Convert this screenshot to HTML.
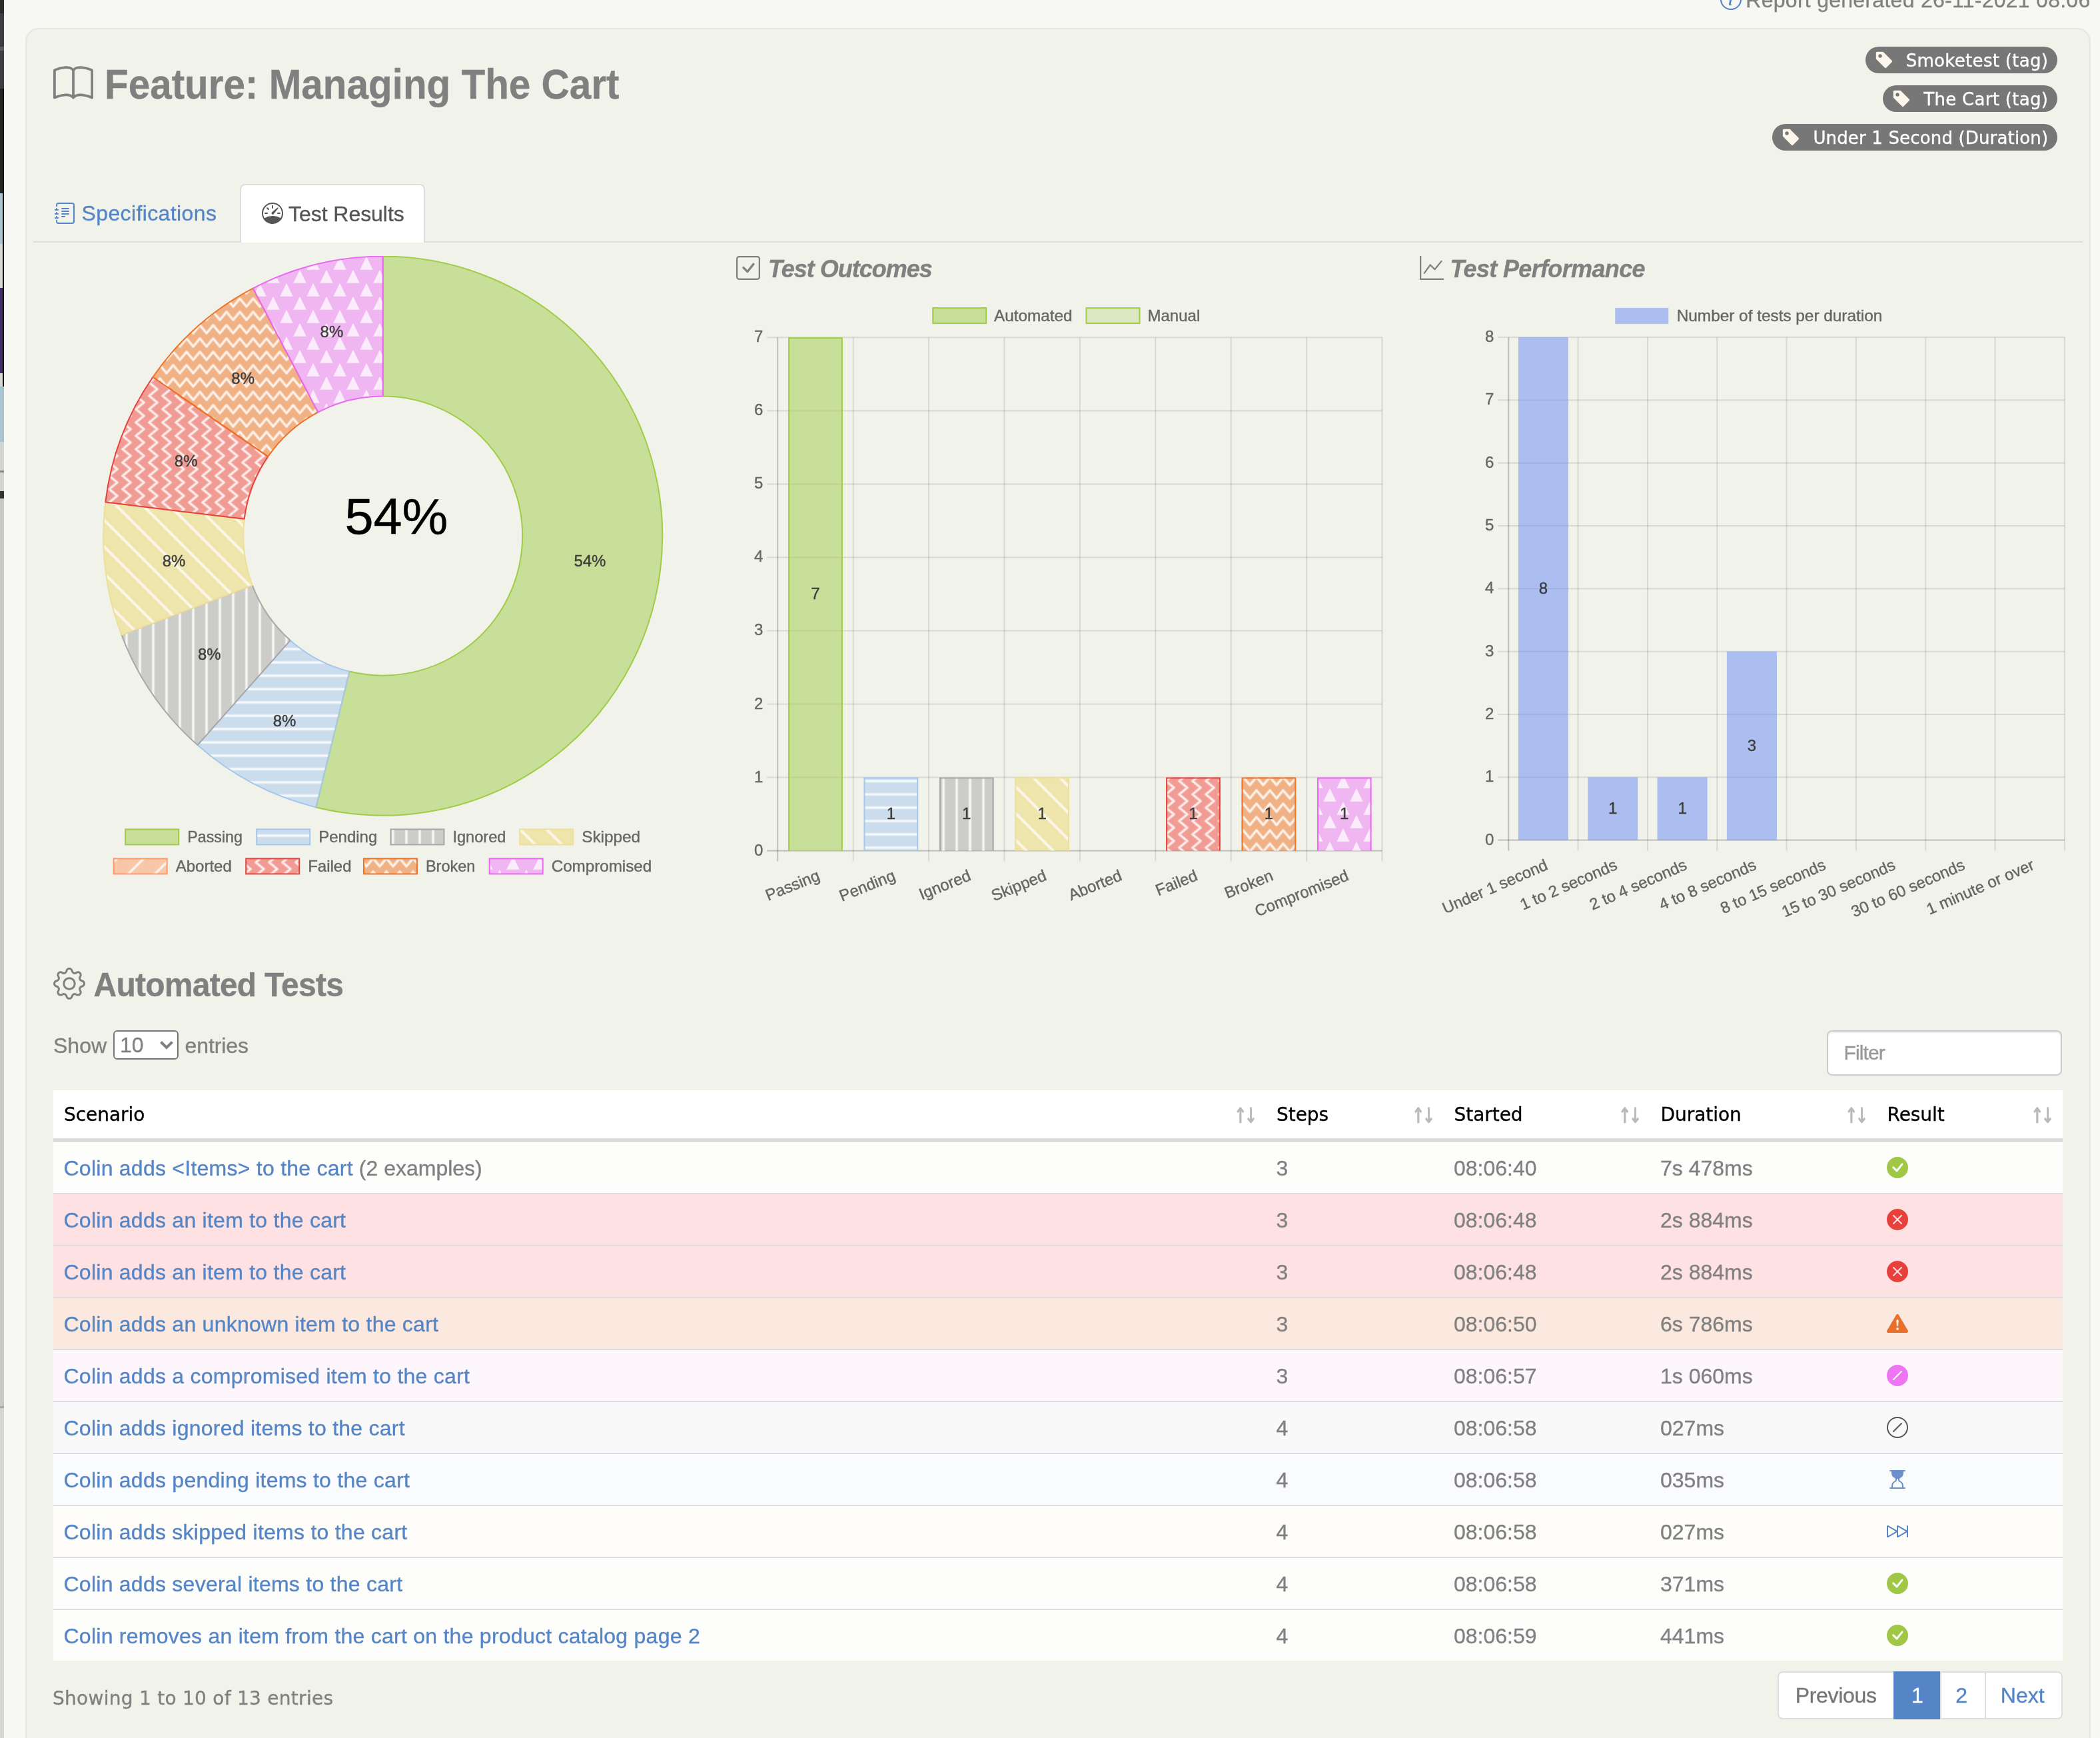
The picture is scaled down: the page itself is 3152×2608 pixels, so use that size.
<!DOCTYPE html><html lang="en"><head><meta charset="utf-8"><title>Feature: Managing The Cart</title><style>
*{box-sizing:border-box}
html,body{margin:0;padding:0}
body{width:3152px;height:2608px;position:relative;background:#f7f8f3;
 font-family:'Liberation Sans',Arial,sans-serif;font-size:32px;color:#808080;-webkit-text-stroke:0.35px}
#report{position:absolute;left:0;top:0;width:3152px;height:2608px;overflow:hidden;will-change:transform}
.abs{position:absolute;white-space:nowrap;line-height:1}
svg.bi{position:absolute;display:block}
svg.chart{position:absolute;display:block;overflow:hidden}
.edge{position:absolute;left:0;top:0;width:6px;height:2608px;background:#cfcfcf;overflow:hidden}
.edge i{position:absolute;left:0;width:6px;display:block}
.panel{position:absolute;left:38px;top:42px;width:3100px;height:2700px;background:#f1f2ea;
 border:2px solid #e6e7e1;border-radius:20px}
h1,h3,h4{margin:0;font-weight:bold;color:#808080;position:absolute;white-space:nowrap;line-height:1}
.badge{position:absolute;height:40px;border-radius:20px;background:#777;color:#fff;
 font-family:'DejaVu Sans',Verdana,sans-serif;font-size:26px;line-height:42px;text-align:right;padding-right:13.2px;white-space:nowrap;letter-spacing:0.31px}
.tabline{position:absolute;left:50px;top:362px;width:3076px;height:2px;background:#dddedd}
.tab-active{position:absolute;left:360px;top:276px;width:278px;height:88px;background:#fff;
 border:2px solid #dddedf;border-bottom:none;border-radius:8px 8px 0 0}
a{color:#5485c6;text-decoration:none}
select.len{position:absolute;left:170px;top:1546px;width:98px;height:44px;border:2px solid #767676;border-radius:6px;background:#fff;
 font:32px 'Liberation Sans',Arial,sans-serif;color:#808080;padding:0 0 0 8px;margin:0;appearance:none;-webkit-appearance:none}
input.filter{position:absolute;left:2742px;top:1546px;width:353px;height:68px;border:2px solid #ccc;border-radius:8px;background:#fff;
 font:30px 'Liberation Sans',Arial,sans-serif;color:#555;padding:0 0 0 23.5px;margin:0;box-shadow:inset 0 2px 2px rgba(0,0,0,.075);outline:none}
input.filter::placeholder{color:#999;opacity:1;letter-spacing:-0.9px}
table.dt{position:absolute;left:80px;top:1635.5px;width:3015.5px;border-collapse:separate;border-spacing:0;table-layout:fixed}
table.dt th{height:76px;background:#fff;font:normal 28px 'DejaVu Sans',Verdana,sans-serif;color:#000;text-align:left;
 padding:1px 0 0 16px;border-bottom:4px solid #dcdcdc;position:relative;letter-spacing:-0.05px}
table.dt th:after{content:"\2191\2193";position:absolute;right:16px;top:22.5px;font:bold 32px 'DejaVu Sans',sans-serif;color:#b9b9b9;letter-spacing:-5.5px;line-height:1;transform-origin:100% 50%;transform:scaleX(0.74)}
table.dt td{height:78px;padding:3px 0 0 15.5px;border-top:2px solid #dddedf;font-size:32px;color:#808080;vertical-align:middle;position:relative;white-space:nowrap}
table.dt tr.r1 td{border-top:2px solid #dcdcdc}
tr.success td{background:#fdfdfb}
tr.failure td{background:#fde1e3}
tr.error td{background:#fbe8de}
tr.compromised td{background:#fdf7fd}
tr.ignored td{background:#f9f9f9}
tr.pending td{background:#fafbfe}
tr.skipped td{background:#fefdf9}
td svg.bi{left:15.5px;top:22px}
.pager{position:absolute;left:2667.5px;top:2508px;height:72px;display:flex;border-radius:8px}
.pager span{display:block;height:72px;line-height:69.5px;border:2px solid #dedede;margin-left:-2px;background:#fff;color:#5485c6;text-align:center;font-size:32px}
.pager span:first-child{margin-left:0;border-radius:8px 0 0 8px;color:#757575}
.pager span:last-child{border-radius:0 8px 8px 0}
.pager span.on{background:#5585c7;border-color:#5585c7;color:#fff}
</style></head><body><div id="report"><div class="edge"><i style="top:0px;height:20px;background:#2b2b2b"></i><i style="top:20px;height:50px;background:#3c3f41"></i><i style="top:70px;height:6px;background:#5a5d5f"></i><i style="top:76px;height:57px;background:#3c3f41"></i><i style="top:133px;height:157px;background:#232323"></i><i style="top:290px;height:76px;background:#a8c5d0"></i><i style="top:366px;height:66px;background:#d6d6d6"></i><i style="top:432px;height:128px;background:#3f2d66"></i><i style="top:560px;height:20px;background:#d6d6d6"></i><i style="top:580px;height:83px;background:#a8c5d0"></i><i style="top:663px;height:43px;background:#d4d4d4"></i><i style="top:706px;height:3px;background:#8a8a8a"></i><i style="top:709px;height:28px;background:#d4d4d4"></i><i style="top:737px;height:11px;background:#333"></i><i style="top:748px;height:1362px;background:#c9c9c9"></i><i style="top:2110px;height:3px;background:#a8a8a8"></i><i style="top:2113px;height:495px;background:#d6d6d6"></i><i style="left:4px;width:2px;top:133px;height:447px;background:#111"></i></div><svg class="bi" width="32" height="32" viewBox="0 0 16 16" fill="#4f81c7" style="left:2581.5px;top:-17.5px"><path d="M8 15A7 7 0 1 1 8 1a7 7 0 0 1 0 14zm0 1A8 8 0 1 0 8 0a8 8 0 0 0 0 16z"/><path d="m8.930 6.588-2.290.287-.082.380.450.083c.294.070.352.176.288.469l-.738 3.468c-.194.897.105 1.319.808 1.319.545 0 1.178-.252 1.465-.598l.088-.416c-.200.176-.492.246-.686.246-.275 0-.375-.193-.304-.533L8.930 6.588zM9 4.500a1 1 0 1 1-2 0 1 1 0 0 1 2 0z"/></svg><div class="abs" style="right:14.5px;top:-15.7px;font-size:32px;letter-spacing:0.27px">Report generated 26-11-2021 08:06</div><div class="panel"></div><svg class="bi" width="60" height="60" viewBox="0 0 16 16" fill="#808080" style="left:80px;top:96px"><path d="M1 2.828c.885-.37 2.154-.769 3.388-.893 1.33-.134 2.458.063 3.112.752v9.746c-.935-.53-2.12-.603-3.213-.493-1.18.12-2.37.461-3.287.811V2.828zm7.5-.141c.654-.689 1.782-.886 3.112-.752 1.234.124 2.503.523 3.388.893v9.923c-.918-.35-2.107-.692-3.287-.81-1.094-.111-2.278-.039-3.213.492V2.687zM8 1.783C7.015.936 5.587.81 4.287.94c-1.514.153-3.042.672-3.994 1.105A.5.5 0 0 0 0 2.5v11a.5.5 0 0 0 .707.455c.882-.4 2.303-.881 3.68-1.02 1.409-.142 2.59.087 3.223.877a.5.5 0 0 0 .78 0c.633-.79 1.814-1.019 3.222-.877 1.378.139 2.8.62 3.681 1.02A.5.5 0 0 0 16 13.5v-11a.5.5 0 0 0-.293-.455c-.952-.433-2.48-.952-3.994-1.105C10.413.809 8.985.936 8 1.783z"/></svg><h1 style="left:157px;top:95px;font-size:60px;transform-origin:0 0;transform:scale(0.9735,1.056)">Feature: Managing The Cart</h1><div class="badge" style="left:2800px;top:69.75px;width:287.5px;letter-spacing:0.31px"><svg class="bi" width="28.6" height="28.6" viewBox="0 0 16 16" fill="#fdf6ec" style="left:14.2px;top:6.1px"><path d="M2 1a1 1 0 0 0-1 1v4.586a1 1 0 0 0 .293.707l7 7a1 1 0 0 0 1.414 0l4.586-4.586a1 1 0 0 0 0-1.414l-7-7A1 1 0 0 0 6.586 1H2zm4 3.500a1.500 1.500 0 1 1-3 0 1.500 1.500 0 0 1 3 0z"/></svg>Smoketest (tag)</div><div class="badge" style="left:2826px;top:127.75px;width:261.5px;letter-spacing:0.31px"><svg class="bi" width="28.6" height="28.6" viewBox="0 0 16 16" fill="#fdf6ec" style="left:14.2px;top:6.1px"><path d="M2 1a1 1 0 0 0-1 1v4.586a1 1 0 0 0 .293.707l7 7a1 1 0 0 0 1.414 0l4.586-4.586a1 1 0 0 0 0-1.414l-7-7A1 1 0 0 0 6.586 1H2zm4 3.500a1.500 1.500 0 1 1-3 0 1.500 1.500 0 0 1 3 0z"/></svg>The Cart (tag)</div><div class="badge" style="left:2660px;top:185.75px;width:427.5px;letter-spacing:0.16px"><svg class="bi" width="28.6" height="28.6" viewBox="0 0 16 16" fill="#fdf6ec" style="left:14.2px;top:6.1px"><path d="M2 1a1 1 0 0 0-1 1v4.586a1 1 0 0 0 .293.707l7 7a1 1 0 0 0 1.414 0l4.586-4.586a1 1 0 0 0 0-1.414l-7-7A1 1 0 0 0 6.586 1H2zm4 3.500a1.500 1.500 0 1 1-3 0 1.500 1.500 0 0 1 3 0z"/></svg>Under 1 Second (Duration)</div><div class="tabline"></div><div class="tab-active"></div><svg class="bi" width="32" height="32" viewBox="0 0 16 16" fill="#5485c6" style="left:81.5px;top:303.5px"><path d="M5 10.5a.5.5 0 0 1 .5-.5h2a.5.5 0 0 1 0 1h-2a.5.5 0 0 1-.5-.5zm0-2a.5.5 0 0 1 .5-.5h5a.5.5 0 0 1 0 1h-5a.5.5 0 0 1-.5-.5zm0-2a.5.5 0 0 1 .5-.5h5a.5.5 0 0 1 0 1h-5a.5.5 0 0 1-.5-.5zm0-2a.5.5 0 0 1 .5-.5h5a.5.5 0 0 1 0 1h-5a.5.5 0 0 1-.5-.5z"/><path d="M3 0h10a2 2 0 0 1 2 2v12a2 2 0 0 1-2 2H3a2 2 0 0 1-2-2v-1h1v1a1 1 0 0 0 1 1h10a1 1 0 0 0 1-1V2a1 1 0 0 0-1-1H3a1 1 0 0 0-1 1v1H1V2a2 2 0 0 1 2-2z"/><path d="M1 5v-.5a.5.5 0 0 1 1 0V5h.5a.5.5 0 0 1 0 1h-2a.5.5 0 0 1 0-1H1zm0 3v-.5a.5.5 0 0 1 1 0V8h.5a.5.5 0 0 1 0 1h-2a.5.5 0 0 1 0-1H1zm0 3v-.5a.5.5 0 0 1 1 0v.5h.5a.5.5 0 0 1 0 1h-2a.5.5 0 0 1 0-1H1z"/></svg><a class="abs" style="left:122.5px;top:304.4px;font-size:32px;letter-spacing:0.38px">Specifications</a><svg class="bi" width="32" height="32" viewBox="0 0 16 16" fill="#555" style="left:392.5px;top:304px"><path d="M8 2a.5.5 0 0 1 .5.5V4a.5.5 0 0 1-1 0V2.5A.5.5 0 0 1 8 2zM3.732 3.732a.5.5 0 0 1 .707 0l.915.914a.5.5 0 1 1-.708.708l-.914-.915a.5.5 0 0 1 0-.707zM2 8a.5.5 0 0 1 .5-.5h1.586a.5.5 0 0 1 0 1H2.5A.5.5 0 0 1 2 8zm9.5 0a.5.5 0 0 1 .5-.5h1.5a.5.5 0 0 1 0 1H12a.5.5 0 0 1-.5-.5zm.754-4.246a.389.389 0 0 0-.527-.02L7.547 7.31A.91.91 0 1 0 8.85 8.569l3.434-4.297a.389.389 0 0 0-.029-.518z"/><path fill-rule="evenodd" d="M6.664 15.889A8 8 0 1 1 9.336.11a8 8 0 0 1-2.672 15.78zm-4.665-4.283A11.945 11.945 0 0 1 8 10c2.186 0 4.236.585 6.001 1.606a7 7 0 1 0-12.002 0z"/></svg><div class="abs" style="left:433px;top:305.2px;font-size:32px;color:#555;letter-spacing:-0.05px">Test Results</div><svg class="chart" width="950" height="950" viewBox="0 0 950 950" style="left:100.3px;top:384.1px" font-family="'Liberation Sans', Arial, sans-serif"><defs><pattern id="d-passing" patternUnits="userSpaceOnUse" x="0" y="0" width="40" height="40"><rect x="-1" y="-1" width="42" height="42" fill="rgba(160,203,71,0.5)"/></pattern><pattern id="d-pending" patternUnits="userSpaceOnUse" x="0" y="0" width="40" height="40"><rect x="-1" y="-1" width="42" height="42" fill="rgba(165,199,238,0.5)"/><path d="M-4 10H44M-4 30H44" fill="none" stroke="rgba(255,255,255,0.28)" stroke-width="5.2" stroke-linecap="round" stroke-linejoin="round"/><path d="M-4 10H44M-4 30H44" fill="none" stroke="rgba(255,255,255,0.72)" stroke-width="2.8" stroke-linecap="round" stroke-linejoin="round"/></pattern><pattern id="d-ignored" patternUnits="userSpaceOnUse" x="0" y="0" width="40" height="40"><rect x="-1" y="-1" width="42" height="42" fill="rgba(168,168,168,0.5)"/><path d="M10 -4V44M30 -4V44" fill="none" stroke="rgba(255,255,255,0.28)" stroke-width="5.2" stroke-linecap="round" stroke-linejoin="round"/><path d="M10 -4V44M30 -4V44" fill="none" stroke="rgba(255,255,255,0.72)" stroke-width="2.8" stroke-linecap="round" stroke-linejoin="round"/></pattern><pattern id="d-skipped" patternUnits="userSpaceOnUse" x="0" y="0" width="40" height="40"><rect x="-1" y="-1" width="42" height="42" fill="rgba(238,224,152,0.75)"/><path d="M18 -2L42 22M-2 18L22 42M-22 -2L2 22M18 -42L42 -18" fill="none" stroke="rgba(255,255,255,0.28)" stroke-width="5.2" stroke-linecap="round" stroke-linejoin="round"/><path d="M18 -2L42 22M-2 18L22 42M-22 -2L2 22M18 -42L42 -18" fill="none" stroke="rgba(255,255,255,0.72)" stroke-width="2.8" stroke-linecap="round" stroke-linejoin="round"/></pattern><pattern id="d-aborted" patternUnits="userSpaceOnUse" x="0" y="0" width="40" height="40"><rect x="-1" y="-1" width="42" height="42" fill="rgba(255,153,102,0.5)"/><path d="M42 18L18 42M22 -2L-2 22" fill="none" stroke="rgba(255,255,255,0.28)" stroke-width="5.2" stroke-linecap="round" stroke-linejoin="round"/><path d="M42 18L18 42M22 -2L-2 22" fill="none" stroke="rgba(255,255,255,0.72)" stroke-width="2.8" stroke-linecap="round" stroke-linejoin="round"/></pattern><pattern id="d-broken" patternUnits="userSpaceOnUse" x="0" y="0" width="40" height="40"><rect x="-1" y="-1" width="42" height="42" fill="rgba(240,112,32,0.5)"/><path d="M0 4L10 16L20 4L30 16L40 4M0 24L10 36L20 24L30 36L40 24" fill="none" stroke="rgba(255,255,255,0.28)" stroke-width="5.2" stroke-linecap="round" stroke-linejoin="round"/><path d="M0 4L10 16L20 4L30 16L40 4M0 24L10 36L20 24L30 36L40 24" fill="none" stroke="rgba(255,255,255,0.72)" stroke-width="2.8" stroke-linecap="round" stroke-linejoin="round"/></pattern><pattern id="d-failed" patternUnits="userSpaceOnUse" x="0" y="0" width="40" height="40"><rect x="-1" y="-1" width="42" height="42" fill="rgba(240,68,62,0.5)"/><path d="M36 0L24 10L36 20L24 30L36 40M16 0L4 10L16 20L4 30L16 40" fill="none" stroke="rgba(255,255,255,0.28)" stroke-width="5.2" stroke-linecap="round" stroke-linejoin="round"/><path d="M36 0L24 10L36 20L24 30L36 40M16 0L4 10L16 20L4 30L16 40" fill="none" stroke="rgba(255,255,255,0.72)" stroke-width="2.8" stroke-linecap="round" stroke-linejoin="round"/></pattern><pattern id="d-compromised" patternUnits="userSpaceOnUse" x="0" y="0" width="40" height="40"><rect x="-1" y="-1" width="42" height="42" fill="rgba(240,122,248,0.5)"/><path d="M10 1.5L19.2 20.5L0.8 20.5ZM30 21.5L39.2 40.5L20.8 40.5ZM30 -18.5L39.2 0.5L20.8 0.5Z" fill="rgba(255,255,255,0.74)" stroke="rgba(255,255,255,0.25)" stroke-width="1.4" stroke-linejoin="round"/></pattern></defs><path d="M474.70 0.60A419.5 419.5 0 1 1 374.31 827.41L424.56 623.51A209.5 209.5 0 1 0 474.70 210.60Z" fill="rgba(160,203,71,0.5)" stroke="#a0cc46" stroke-width="2" stroke-linejoin="bevel"/><path d="M374.31 827.41A419.5 419.5 0 0 1 196.52 734.10L335.78 576.91A209.5 209.5 0 0 0 424.56 623.51Z" fill="url(#d-pending)" stroke="#a5c7ee" stroke-width="2" stroke-linejoin="bevel"/><path d="M196.52 734.10A419.5 419.5 0 0 1 82.46 568.86L278.81 494.39A209.5 209.5 0 0 0 335.78 576.91Z" fill="url(#d-ignored)" stroke="#a8a8a8" stroke-width="2" stroke-linejoin="bevel"/><path d="M82.46 568.86A419.5 419.5 0 0 1 58.26 369.53L266.73 394.85A209.5 209.5 0 0 0 278.81 494.39Z" fill="url(#d-skipped)" stroke="#eee098" stroke-width="2" stroke-linejoin="bevel"/><path d="M58.26 369.53A419.5 419.5 0 0 1 129.46 181.80L302.28 301.09A209.5 209.5 0 0 0 266.73 394.85Z" fill="url(#d-failed)" stroke="#e8413c" stroke-width="2" stroke-linejoin="bevel"/><path d="M129.46 181.80A419.5 419.5 0 0 1 279.75 48.65L377.34 234.60A209.5 209.5 0 0 0 302.28 301.09Z" fill="url(#d-broken)" stroke="#ee7326" stroke-width="2" stroke-linejoin="bevel"/><path d="M279.75 48.65A419.5 419.5 0 0 1 474.70 0.60L474.70 210.60A209.5 209.5 0 0 0 377.34 234.60Z" fill="url(#d-compromised)" stroke="#ea68f3" stroke-width="2" stroke-linejoin="bevel"/><text x="785.41" y="465.61" font-size="24" fill="#3d3d3d" stroke="#3d3d3d" stroke-width="0.4" text-anchor="middle" >54%</text><text x="327.04" y="706.18" font-size="24" fill="#3d3d3d" stroke="#3d3d3d" stroke-width="0.4" text-anchor="middle" >8%</text><text x="214.37" y="606.36" font-size="24" fill="#3d3d3d" stroke="#3d3d3d" stroke-width="0.4" text-anchor="middle" >8%</text><text x="160.99" y="465.61" font-size="24" fill="#3d3d3d" stroke="#3d3d3d" stroke-width="0.4" text-anchor="middle" >8%</text><text x="179.14" y="316.18" font-size="24" fill="#3d3d3d" stroke="#3d3d3d" stroke-width="0.4" text-anchor="middle" >8%</text><text x="264.65" y="192.29" font-size="24" fill="#3d3d3d" stroke="#3d3d3d" stroke-width="0.4" text-anchor="middle" >8%</text><text x="397.94" y="122.34" font-size="24" fill="#3d3d3d" stroke="#3d3d3d" stroke-width="0.4" text-anchor="middle" >8%</text><text x="494.95" y="417.10" font-size="76" fill="#000" stroke="#000" stroke-width="0.4" text-anchor="middle" textLength="155" lengthAdjust="spacingAndGlyphs">54%</text><rect x="88.20" y="860.40" width="80" height="23" fill="rgba(160,203,71,0.5)" stroke="#a0cc46" stroke-width="2"/><text x="181.20" y="879.90" font-size="24" fill="#666" stroke="#666" stroke-width="0.4" text-anchor="start" textLength="82.75" lengthAdjust="spacingAndGlyphs">Passing</text><rect x="285.20" y="860.40" width="80" height="23" fill="url(#d-pending)" stroke="#a5c7ee" stroke-width="2"/><text x="378.20" y="879.90" font-size="24" fill="#666" stroke="#666" stroke-width="0.4" text-anchor="start" >Pending</text><rect x="486.45" y="860.40" width="80" height="23" fill="url(#d-ignored)" stroke="#a8a8a8" stroke-width="2"/><text x="579.45" y="879.90" font-size="24" fill="#666" stroke="#666" stroke-width="0.4" text-anchor="start" textLength="80" lengthAdjust="spacingAndGlyphs">Ignored</text><rect x="680.20" y="860.40" width="80" height="23" fill="url(#d-skipped)" stroke="#eee098" stroke-width="2"/><text x="773.20" y="879.90" font-size="24" fill="#666" stroke="#666" stroke-width="0.4" text-anchor="start" textLength="87.75" lengthAdjust="spacingAndGlyphs">Skipped</text><rect x="70.70" y="904.40" width="80" height="23" fill="url(#d-aborted)" stroke="#ff9966" stroke-width="2"/><text x="163.70" y="923.90" font-size="24" fill="#666" stroke="#666" stroke-width="0.4" text-anchor="start" >Aborted</text><rect x="269.20" y="904.40" width="80" height="23" fill="url(#d-failed)" stroke="#e8413c" stroke-width="2"/><text x="362.20" y="923.90" font-size="24" fill="#666" stroke="#666" stroke-width="0.4" text-anchor="start" >Failed</text><rect x="445.95" y="904.40" width="80" height="23" fill="url(#d-broken)" stroke="#ee7326" stroke-width="2"/><text x="538.95" y="923.90" font-size="24" fill="#666" stroke="#666" stroke-width="0.4" text-anchor="start" textLength="74.5" lengthAdjust="spacingAndGlyphs">Broken</text><rect x="634.70" y="904.40" width="80" height="23" fill="url(#d-compromised)" stroke="#ea68f3" stroke-width="2"/><text x="727.70" y="923.90" font-size="24" fill="#666" stroke="#666" stroke-width="0.4" text-anchor="start" textLength="150.5" lengthAdjust="spacingAndGlyphs">Compromised</text></svg><svg class="bi" width="36" height="36" viewBox="0 0 16 16" fill="#808080" style="left:1105px;top:384px"><path d="M14 1a1 1 0 0 1 1 1v12a1 1 0 0 1-1 1H2a1 1 0 0 1-1-1V2a1 1 0 0 1 1-1h12zM2 0a2 2 0 0 0-2 2v12a2 2 0 0 0 2 2h12a2 2 0 0 0 2-2V2a2 2 0 0 0-2-2H2z"/><path d="M10.97 4.97a.75.75 0 0 1 1.071 1.05l-3.992 4.99a.75.75 0 0 1-1.08.02L4.324 8.384a.75.75 0 1 1 1.06-1.06l2.094 2.093 3.473-4.425a.235.235 0 0 1 .02-.022z"/></svg><h4 style="left:1153px;top:385px;font-size:36px;font-style:italic;letter-spacing:-1px;transform-origin:0 0;transform:scaleY(1.04)">Test Outcomes</h4><svg class="chart" width="990" height="960" viewBox="0 0 990 960" style="left:1105.5px;top:441.9px" font-family="'Liberation Sans', Arial, sans-serif"><defs><pattern id="o-passing" patternUnits="userSpaceOnUse" x="20" y="0" width="40" height="40"><rect x="-1" y="-1" width="42" height="42" fill="rgba(160,203,71,0.5)"/></pattern><pattern id="o-pending" patternUnits="userSpaceOnUse" x="20" y="0" width="40" height="40"><rect x="-1" y="-1" width="42" height="42" fill="rgba(165,199,238,0.5)"/><path d="M-4 10H44M-4 30H44" fill="none" stroke="rgba(255,255,255,0.28)" stroke-width="5.2" stroke-linecap="round" stroke-linejoin="round"/><path d="M-4 10H44M-4 30H44" fill="none" stroke="rgba(255,255,255,0.72)" stroke-width="2.8" stroke-linecap="round" stroke-linejoin="round"/></pattern><pattern id="o-ignored" patternUnits="userSpaceOnUse" x="20" y="0" width="40" height="40"><rect x="-1" y="-1" width="42" height="42" fill="rgba(168,168,168,0.5)"/><path d="M10 -4V44M30 -4V44" fill="none" stroke="rgba(255,255,255,0.28)" stroke-width="5.2" stroke-linecap="round" stroke-linejoin="round"/><path d="M10 -4V44M30 -4V44" fill="none" stroke="rgba(255,255,255,0.72)" stroke-width="2.8" stroke-linecap="round" stroke-linejoin="round"/></pattern><pattern id="o-skipped" patternUnits="userSpaceOnUse" x="20" y="0" width="40" height="40"><rect x="-1" y="-1" width="42" height="42" fill="rgba(238,224,152,0.75)"/><path d="M18 -2L42 22M-2 18L22 42M-22 -2L2 22M18 -42L42 -18" fill="none" stroke="rgba(255,255,255,0.28)" stroke-width="5.2" stroke-linecap="round" stroke-linejoin="round"/><path d="M18 -2L42 22M-2 18L22 42M-22 -2L2 22M18 -42L42 -18" fill="none" stroke="rgba(255,255,255,0.72)" stroke-width="2.8" stroke-linecap="round" stroke-linejoin="round"/></pattern><pattern id="o-aborted" patternUnits="userSpaceOnUse" x="20" y="0" width="40" height="40"><rect x="-1" y="-1" width="42" height="42" fill="rgba(255,153,102,0.5)"/><path d="M42 18L18 42M22 -2L-2 22" fill="none" stroke="rgba(255,255,255,0.28)" stroke-width="5.2" stroke-linecap="round" stroke-linejoin="round"/><path d="M42 18L18 42M22 -2L-2 22" fill="none" stroke="rgba(255,255,255,0.72)" stroke-width="2.8" stroke-linecap="round" stroke-linejoin="round"/></pattern><pattern id="o-broken" patternUnits="userSpaceOnUse" x="20" y="0" width="40" height="40"><rect x="-1" y="-1" width="42" height="42" fill="rgba(240,112,32,0.5)"/><path d="M0 4L10 16L20 4L30 16L40 4M0 24L10 36L20 24L30 36L40 24" fill="none" stroke="rgba(255,255,255,0.28)" stroke-width="5.2" stroke-linecap="round" stroke-linejoin="round"/><path d="M0 4L10 16L20 4L30 16L40 4M0 24L10 36L20 24L30 36L40 24" fill="none" stroke="rgba(255,255,255,0.72)" stroke-width="2.8" stroke-linecap="round" stroke-linejoin="round"/></pattern><pattern id="o-failed" patternUnits="userSpaceOnUse" x="20" y="0" width="40" height="40"><rect x="-1" y="-1" width="42" height="42" fill="rgba(240,68,62,0.5)"/><path d="M36 0L24 10L36 20L24 30L36 40M16 0L4 10L16 20L4 30L16 40" fill="none" stroke="rgba(255,255,255,0.28)" stroke-width="5.2" stroke-linecap="round" stroke-linejoin="round"/><path d="M36 0L24 10L36 20L24 30L36 40M16 0L4 10L16 20L4 30L16 40" fill="none" stroke="rgba(255,255,255,0.72)" stroke-width="2.8" stroke-linecap="round" stroke-linejoin="round"/></pattern><pattern id="o-compromised" patternUnits="userSpaceOnUse" x="20" y="0" width="40" height="40"><rect x="-1" y="-1" width="42" height="42" fill="rgba(240,122,248,0.5)"/><path d="M10 1.5L19.2 20.5L0.8 20.5ZM30 21.5L39.2 40.5L20.8 40.5ZM30 -18.5L39.2 0.5L20.8 0.5Z" fill="rgba(255,255,255,0.74)" stroke="rgba(255,255,255,0.25)" stroke-width="1.4" stroke-linejoin="round"/></pattern></defs><rect x="45.25" y="833.60" width="923.25" height="2" fill="rgba(0,0,0,0.21)"/><text x="39.25" y="841.60" font-size="24" fill="#666" stroke="#666" stroke-width="0.4" text-anchor="end" >0</text><rect x="45.25" y="723.56" width="923.25" height="2" fill="rgba(0,0,0,0.1)"/><text x="39.25" y="731.56" font-size="24" fill="#666" stroke="#666" stroke-width="0.4" text-anchor="end" >1</text><rect x="45.25" y="613.53" width="923.25" height="2" fill="rgba(0,0,0,0.1)"/><text x="39.25" y="621.53" font-size="24" fill="#666" stroke="#666" stroke-width="0.4" text-anchor="end" >2</text><rect x="45.25" y="503.49" width="923.25" height="2" fill="rgba(0,0,0,0.1)"/><text x="39.25" y="511.49" font-size="24" fill="#666" stroke="#666" stroke-width="0.4" text-anchor="end" >3</text><rect x="45.25" y="393.46" width="923.25" height="2" fill="rgba(0,0,0,0.1)"/><text x="39.25" y="401.46" font-size="24" fill="#666" stroke="#666" stroke-width="0.4" text-anchor="end" >4</text><rect x="45.25" y="283.42" width="923.25" height="2" fill="rgba(0,0,0,0.1)"/><text x="39.25" y="291.42" font-size="24" fill="#666" stroke="#666" stroke-width="0.4" text-anchor="end" >5</text><rect x="45.25" y="173.39" width="923.25" height="2" fill="rgba(0,0,0,0.1)"/><text x="39.25" y="181.39" font-size="24" fill="#666" stroke="#666" stroke-width="0.4" text-anchor="end" >6</text><rect x="45.25" y="63.35" width="923.25" height="2" fill="rgba(0,0,0,0.1)"/><text x="39.25" y="71.35" font-size="24" fill="#666" stroke="#666" stroke-width="0.4" text-anchor="end" >7</text><rect x="60.25" y="64.35" width="2" height="786.25" fill="rgba(0,0,0,0.21)"/><rect x="173.66" y="64.35" width="2" height="786.25" fill="rgba(0,0,0,0.1)"/><rect x="287.06" y="64.35" width="2" height="786.25" fill="rgba(0,0,0,0.1)"/><rect x="400.47" y="64.35" width="2" height="786.25" fill="rgba(0,0,0,0.1)"/><rect x="513.88" y="64.35" width="2" height="786.25" fill="rgba(0,0,0,0.1)"/><rect x="627.28" y="64.35" width="2" height="786.25" fill="rgba(0,0,0,0.1)"/><rect x="740.69" y="64.35" width="2" height="786.25" fill="rgba(0,0,0,0.1)"/><rect x="854.09" y="64.35" width="2" height="786.25" fill="rgba(0,0,0,0.1)"/><rect x="967.50" y="64.35" width="2" height="786.25" fill="rgba(0,0,0,0.1)"/><rect x="77.13" y="64.35" width="81.65" height="770.25" fill="rgba(160,203,71,0.5)"/><path d="M78.13 834.60V65.35H157.78V834.60" fill="none" stroke="#a0cc46" stroke-width="2"/><text x="117.95" y="457.08" font-size="24" fill="#3d3d3d" stroke="#3d3d3d" stroke-width="0.4" text-anchor="middle" >7</text><text transform="translate(122.95 870.10) rotate(-22)" x="0" y="8.4" font-size="24" fill="#666" stroke="#666" stroke-width="0.4" text-anchor="end">Passing</text><rect x="190.53" y="724.56" width="81.65" height="110.04" fill="url(#o-pending)"/><path d="M191.53 834.60V725.56H271.19V834.60" fill="none" stroke="#a5c7ee" stroke-width="2"/><text x="231.36" y="787.18" font-size="24" fill="#3d3d3d" stroke="#3d3d3d" stroke-width="0.4" text-anchor="middle" >1</text><text transform="translate(236.36 870.10) rotate(-22)" x="0" y="8.4" font-size="24" fill="#666" stroke="#666" stroke-width="0.4" text-anchor="end">Pending</text><rect x="303.94" y="724.56" width="81.65" height="110.04" fill="url(#o-ignored)"/><path d="M304.94 834.60V725.56H384.59V834.60" fill="none" stroke="#a8a8a8" stroke-width="2"/><text x="344.77" y="787.18" font-size="24" fill="#3d3d3d" stroke="#3d3d3d" stroke-width="0.4" text-anchor="middle" >1</text><text transform="translate(349.77 870.10) rotate(-22)" x="0" y="8.4" font-size="24" fill="#666" stroke="#666" stroke-width="0.4" text-anchor="end">Ignored</text><rect x="417.35" y="724.56" width="81.65" height="110.04" fill="url(#o-skipped)"/><path d="M418.35 834.60V725.56H498.00V834.60" fill="none" stroke="#eee098" stroke-width="2"/><text x="458.17" y="787.18" font-size="24" fill="#3d3d3d" stroke="#3d3d3d" stroke-width="0.4" text-anchor="middle" >1</text><text transform="translate(463.17 870.10) rotate(-22)" x="0" y="8.4" font-size="24" fill="#666" stroke="#666" stroke-width="0.4" text-anchor="end">Skipped</text><text transform="translate(576.58 870.10) rotate(-22)" x="0" y="8.4" font-size="24" fill="#666" stroke="#666" stroke-width="0.4" text-anchor="end">Aborted</text><rect x="644.16" y="724.56" width="81.65" height="110.04" fill="url(#o-failed)"/><path d="M645.16 834.60V725.56H724.81V834.60" fill="none" stroke="#e8413c" stroke-width="2"/><text x="684.98" y="787.18" font-size="24" fill="#3d3d3d" stroke="#3d3d3d" stroke-width="0.4" text-anchor="middle" >1</text><text transform="translate(689.98 870.10) rotate(-22)" x="0" y="8.4" font-size="24" fill="#666" stroke="#666" stroke-width="0.4" text-anchor="end">Failed</text><rect x="757.56" y="724.56" width="81.65" height="110.04" fill="url(#o-broken)"/><path d="M758.56 834.60V725.56H838.22V834.60" fill="none" stroke="#ee7326" stroke-width="2"/><text x="798.39" y="787.18" font-size="24" fill="#3d3d3d" stroke="#3d3d3d" stroke-width="0.4" text-anchor="middle" >1</text><text transform="translate(803.39 870.10) rotate(-22)" x="0" y="8.4" font-size="24" fill="#666" stroke="#666" stroke-width="0.4" text-anchor="end">Broken</text><rect x="870.97" y="724.56" width="81.65" height="110.04" fill="url(#o-compromised)"/><path d="M871.97 834.60V725.56H951.62V834.60" fill="none" stroke="#ea68f3" stroke-width="2"/><text x="911.80" y="787.18" font-size="24" fill="#3d3d3d" stroke="#3d3d3d" stroke-width="0.4" text-anchor="middle" >1</text><text transform="translate(916.80 870.10) rotate(-22)" x="0" y="8.4" font-size="24" fill="#666" stroke="#666" stroke-width="0.4" text-anchor="end">Compromised</text><rect x="294.25" y="20.10" width="80" height="23" fill="rgba(160,203,71,0.5)" stroke="#a0cc46" stroke-width="2"/><text x="386.00" y="39.85" font-size="24" fill="#666" stroke="#666" stroke-width="0.4" text-anchor="start" textLength="117.6" lengthAdjust="spacingAndGlyphs">Automated</text><rect x="524.50" y="20.10" width="80" height="23" fill="rgba(160,203,71,0.25)" stroke="#a0cc46" stroke-width="2"/><text x="616.50" y="39.85" font-size="24" fill="#666" stroke="#666" stroke-width="0.4" text-anchor="start" >Manual</text></svg><svg class="bi" width="36" height="36" viewBox="0 0 16 16" fill="#808080" style="left:2130.7px;top:384px"><path fill-rule="evenodd" d="M0 0h1v15h15v1H0V0Zm14.817 3.113a.5.5 0 0 1 .07.704l-4.5 5.5a.5.5 0 0 1-.74.037L7.06 6.767l-3.656 5.027a.5.5 0 0 1-.808-.588l4-5.5a.5.5 0 0 1 .758-.06l2.609 2.61 4.15-5.073a.5.5 0 0 1 .704-.07Z"/></svg><h4 style="left:2176.5px;top:385px;font-size:36px;font-style:italic;letter-spacing:-0.65px;transform-origin:0 0;transform:scaleY(1.04)">Test Performance</h4><svg class="chart" width="990" height="960" viewBox="0 0 990 960" style="left:2130.5px;top:441.9px" font-family="'Liberation Sans', Arial, sans-serif"><rect x="117.25" y="817.60" width="850.65" height="2" fill="rgba(0,0,0,0.21)"/><text x="111.25" y="825.60" font-size="24" fill="#666" stroke="#666" stroke-width="0.4" text-anchor="end" >0</text><rect x="117.25" y="723.29" width="850.65" height="2" fill="rgba(0,0,0,0.1)"/><text x="111.25" y="731.29" font-size="24" fill="#666" stroke="#666" stroke-width="0.4" text-anchor="end" >1</text><rect x="117.25" y="628.98" width="850.65" height="2" fill="rgba(0,0,0,0.1)"/><text x="111.25" y="636.98" font-size="24" fill="#666" stroke="#666" stroke-width="0.4" text-anchor="end" >2</text><rect x="117.25" y="534.66" width="850.65" height="2" fill="rgba(0,0,0,0.1)"/><text x="111.25" y="542.66" font-size="24" fill="#666" stroke="#666" stroke-width="0.4" text-anchor="end" >3</text><rect x="117.25" y="440.35" width="850.65" height="2" fill="rgba(0,0,0,0.1)"/><text x="111.25" y="448.35" font-size="24" fill="#666" stroke="#666" stroke-width="0.4" text-anchor="end" >4</text><rect x="117.25" y="346.04" width="850.65" height="2" fill="rgba(0,0,0,0.1)"/><text x="111.25" y="354.04" font-size="24" fill="#666" stroke="#666" stroke-width="0.4" text-anchor="end" >5</text><rect x="117.25" y="251.73" width="850.65" height="2" fill="rgba(0,0,0,0.1)"/><text x="111.25" y="259.73" font-size="24" fill="#666" stroke="#666" stroke-width="0.4" text-anchor="end" >6</text><rect x="117.25" y="157.41" width="850.65" height="2" fill="rgba(0,0,0,0.1)"/><text x="111.25" y="165.41" font-size="24" fill="#666" stroke="#666" stroke-width="0.4" text-anchor="end" >7</text><rect x="117.25" y="63.10" width="850.65" height="2" fill="rgba(0,0,0,0.1)"/><text x="111.25" y="71.10" font-size="24" fill="#666" stroke="#666" stroke-width="0.4" text-anchor="end" >8</text><rect x="132.25" y="64.10" width="2" height="770.50" fill="rgba(0,0,0,0.21)"/><rect x="236.58" y="64.10" width="2" height="770.50" fill="rgba(0,0,0,0.1)"/><rect x="340.91" y="64.10" width="2" height="770.50" fill="rgba(0,0,0,0.1)"/><rect x="445.24" y="64.10" width="2" height="770.50" fill="rgba(0,0,0,0.1)"/><rect x="549.57" y="64.10" width="2" height="770.50" fill="rgba(0,0,0,0.1)"/><rect x="653.91" y="64.10" width="2" height="770.50" fill="rgba(0,0,0,0.1)"/><rect x="758.24" y="64.10" width="2" height="770.50" fill="rgba(0,0,0,0.1)"/><rect x="862.57" y="64.10" width="2" height="770.50" fill="rgba(0,0,0,0.1)"/><rect x="966.90" y="64.10" width="2" height="770.50" fill="rgba(0,0,0,0.1)"/><rect x="147.86" y="64.10" width="75.12" height="754.50" fill="rgba(103,138,246,0.5)"/><text x="185.42" y="448.95" font-size="24" fill="#3d3d3d" stroke="#3d3d3d" stroke-width="0.4" text-anchor="middle" >8</text><text transform="translate(190.42 854.10) rotate(-23.5)" x="0" y="8.4" font-size="24" fill="#666" stroke="#666" stroke-width="0.4" text-anchor="end">Under 1 second</text><rect x="252.19" y="724.29" width="75.12" height="94.31" fill="rgba(103,138,246,0.5)"/><text x="289.75" y="779.04" font-size="24" fill="#3d3d3d" stroke="#3d3d3d" stroke-width="0.4" text-anchor="middle" >1</text><text transform="translate(294.75 854.10) rotate(-23.5)" x="0" y="8.4" font-size="24" fill="#666" stroke="#666" stroke-width="0.4" text-anchor="end">1 to 2 seconds</text><rect x="356.52" y="724.29" width="75.12" height="94.31" fill="rgba(103,138,246,0.5)"/><text x="394.08" y="779.04" font-size="24" fill="#3d3d3d" stroke="#3d3d3d" stroke-width="0.4" text-anchor="middle" >1</text><text transform="translate(399.08 854.10) rotate(-23.5)" x="0" y="8.4" font-size="24" fill="#666" stroke="#666" stroke-width="0.4" text-anchor="end">2 to 4 seconds</text><rect x="460.85" y="535.66" width="75.12" height="282.94" fill="rgba(103,138,246,0.5)"/><text x="498.41" y="684.73" font-size="24" fill="#3d3d3d" stroke="#3d3d3d" stroke-width="0.4" text-anchor="middle" >3</text><text transform="translate(503.41 854.10) rotate(-23.5)" x="0" y="8.4" font-size="24" fill="#666" stroke="#666" stroke-width="0.4" text-anchor="end">4 to 8 seconds</text><text transform="translate(607.74 854.10) rotate(-23.5)" x="0" y="8.4" font-size="24" fill="#666" stroke="#666" stroke-width="0.4" text-anchor="end">8 to 15 seconds</text><text transform="translate(712.07 854.10) rotate(-23.5)" x="0" y="8.4" font-size="24" fill="#666" stroke="#666" stroke-width="0.4" text-anchor="end">15 to 30 seconds</text><text transform="translate(816.40 854.10) rotate(-23.5)" x="0" y="8.4" font-size="24" fill="#666" stroke="#666" stroke-width="0.4" text-anchor="end">30 to 60 seconds</text><text transform="translate(920.73 854.10) rotate(-23.5)" x="0" y="8.4" font-size="24" fill="#666" stroke="#666" stroke-width="0.4" text-anchor="end">1 minute or over</text><rect x="293.25" y="20.10" width="80" height="24" fill="rgba(103,138,246,0.5)"/><text x="385.75" y="39.85" font-size="24" fill="#666" stroke="#666" stroke-width="0.4" text-anchor="start" textLength="308.5" lengthAdjust="spacingAndGlyphs">Number of tests per duration</text></svg><svg class="bi" width="48" height="48" viewBox="0 0 16 16" fill="#808080" style="left:80px;top:1452px"><path d="M8 4.754a3.246 3.246 0 1 0 0 6.492 3.246 3.246 0 0 0 0-6.492zM5.754 8a2.246 2.246 0 1 1 4.492 0 2.246 2.246 0 0 1-4.492 0z"/><path d="M9.796 1.343c-.527-1.79-3.065-1.79-3.592 0l-.094.319a.873.873 0 0 1-1.255.52l-.292-.16c-1.64-.892-3.433.902-2.54 2.541l.159.292a.873.873 0 0 1-.52 1.255l-.319.094c-1.79.527-1.79 3.065 0 3.592l.319.094a.873.873 0 0 1 .52 1.255l-.16.292c-.892 1.64.901 3.434 2.541 2.54l.292-.159a.873.873 0 0 1 1.255.52l.094.319c.527 1.79 3.065 1.79 3.592 0l.094-.319a.873.873 0 0 1 1.255-.52l.292.16c1.64.893 3.434-.902 2.54-2.541l-.159-.292a.873.873 0 0 1 .52-1.255l.319-.094c1.79-.527 1.79-3.065 0-3.592l-.319-.094a.873.873 0 0 1-.52-1.255l.16-.292c.893-1.64-.902-3.433-2.541-2.54l-.292.159a.873.873 0 0 1-1.255-.52l-.094-.319zm-2.633.283c.246-.835 1.428-.835 1.674 0l.094.319a1.873 1.873 0 0 0 2.693 1.115l.291-.16c.764-.415 1.6.42 1.184 1.185l-.159.292a1.873 1.873 0 0 0 1.116 2.692l.318.094c.835.246.835 1.428 0 1.674l-.319.094a1.873 1.873 0 0 0-1.115 2.693l.16.291c.415.764-.42 1.6-1.185 1.184l-.291-.159a1.873 1.873 0 0 0-2.693 1.116l-.094.318c-.246.835-1.428.835-1.674 0l-.094-.319a1.873 1.873 0 0 0-2.692-1.115l-.292.16c-.764.415-1.6-.42-1.184-1.185l.159-.291A1.873 1.873 0 0 0 1.945 8.93l-.319-.094c-.835-.246-.835-1.428 0-1.674l.319-.094A1.873 1.873 0 0 0 3.06 4.377l-.16-.292c-.415-.764.42-1.6 1.185-1.184l.292.159a1.873 1.873 0 0 0 2.692-1.115l.094-.319z"/></svg><h3 style="left:140.5px;top:1452.5px;font-size:48px;letter-spacing:-0.75px;transform-origin:0 0;transform:scaleY(1.05)">Automated Tests</h3><div class="abs" style="left:80px;top:1553px;font-size:32px">Show</div><select class="len"><option>10</option></select><svg class="bi" width="22" height="14" viewBox="0 0 22 14" style="left:239px;top:1561px"><path d="M2.5 2.5l8.5 8.5 8.5-8.500" fill="none" stroke="#808080" stroke-width="4"/></svg><div class="abs" style="left:277.5px;top:1553px;font-size:32px;letter-spacing:-0.1px">entries</div><input class="filter" type="text" placeholder="Filter"><table class="dt"><colgroup><col style="width:1820px"><col style="width:266.5px"><col style="width:310px"><col style="width:340px"><col style="width:279px"></colgroup><thead><tr><th>Scenario</th><th>Steps</th><th>Started</th><th>Duration</th><th>Result</th></tr></thead><tbody><tr class="success r1"><td><a style="letter-spacing:0.25px">Colin adds &lt;Items&gt; to the cart</a> (2 examples)</td><td>3</td><td>08:06:40</td><td>7s 478ms</td><td><svg class="bi" width="32" height="32" viewBox="0 0 16 16" fill="#a0c846" style=""><path d="M16 8A8 8 0 1 1 0 8a8 8 0 0 1 16 0zm-3.970-3.030a.75.75 0 0 0-1.080.022L7.477 9.417 5.384 7.323a.75.75 0 0 0-1.060 1.060L6.970 11.030a.75.75 0 0 0 1.079-.020l3.992-4.990a.75.75 0 0 0-.010-1.050z"/></svg></td></tr><tr class="failure"><td><a style="letter-spacing:0.25px">Colin adds an item to the cart</a></td><td>3</td><td>08:06:48</td><td>2s 884ms</td><td><svg class="bi" width="32" height="32" viewBox="0 0 16 16" fill="#e8413c" style=""><path d="M16 8A8 8 0 1 1 0 8a8 8 0 0 1 16 0zM5.354 4.646a.5.5 0 1 0-.708.708L7.293 8l-2.647 2.646a.5.5 0 0 0 .708.708L8 8.707l2.646 2.647a.5.5 0 0 0 .708-.708L8.707 8l2.647-2.646a.5.5 0 0 0-.708-.708L8 7.293 5.354 4.646z"/></svg></td></tr><tr class="failure"><td><a style="letter-spacing:0.25px">Colin adds an item to the cart</a></td><td>3</td><td>08:06:48</td><td>2s 884ms</td><td><svg class="bi" width="32" height="32" viewBox="0 0 16 16" fill="#e8413c" style=""><path d="M16 8A8 8 0 1 1 0 8a8 8 0 0 1 16 0zM5.354 4.646a.5.5 0 1 0-.708.708L7.293 8l-2.647 2.646a.5.5 0 0 0 .708.708L8 8.707l2.646 2.647a.5.5 0 0 0 .708-.708L8.707 8l2.647-2.646a.5.5 0 0 0-.708-.708L8 7.293 5.354 4.646z"/></svg></td></tr><tr class="error"><td><a style="letter-spacing:0.25px">Colin adds an unknown item to the cart</a></td><td>3</td><td>08:06:50</td><td>6s 786ms</td><td><svg class="bi" width="32" height="32" viewBox="0 0 16 16" fill="#e8702a" style=""><path d="M8.982 1.566a1.130 1.130 0 0 0-1.960 0L.165 13.233c-.457.778.091 1.767.980 1.767h13.713c.889 0 1.438-.990.980-1.767L8.982 1.566zM8 5c.535 0 .954.462.900.995l-.350 3.507a.552.552 0 0 1-1.100 0L7.100 5.995A.905.905 0 0 1 8 5zm.002 6a1 1 0 1 1 0 2 1 1 0 0 1 0-2z"/></svg></td></tr><tr class="compromised"><td><a style="letter-spacing:0.25px">Colin adds a compromised item to the cart</a></td><td>3</td><td>08:06:57</td><td>1s 060ms</td><td><svg class="bi" width="32" height="32" viewBox="0 0 16 16" fill="#ee76f5" style=""><path d="M16 8A8 8 0 1 1 0 8a8 8 0 0 1 16 0zm-4.646-2.646a.5.5 0 0 0-.708-.708l-6 6a.5.5 0 0 0 .708.708l6-6z"/></svg></td></tr><tr class="ignored"><td><a style="letter-spacing:0.25px">Colin adds ignored items to the cart</a></td><td>4</td><td>08:06:58</td><td>027ms</td><td><svg class="bi" width="32" height="32" viewBox="0 0 16 16" fill="#555" style=""><path d="M8 15A7 7 0 1 1 8 1a7 7 0 0 1 0 14zm0 1A8 8 0 1 0 8 0a8 8 0 0 0 0 16z"/><path d="M11.354 4.646a.5.5 0 0 0-.708 0l-6 6a.5.5 0 0 0 .708.708l6-6a.5.5 0 0 0 0-.708z"/></svg></td></tr><tr class="pending"><td><a style="letter-spacing:0.25px">Colin adds pending items to the cart</a></td><td>4</td><td>08:06:58</td><td>035ms</td><td><svg class="bi" width="32" height="32" viewBox="0 0 16 16" fill="#6b8fcc" style=""><path d="M2 14.500a.5.5 0 0 0 .5.5h11a.5.5 0 1 0 0-1h-1v-1a4.500 4.500 0 0 0-2.557-4.060c-.290-.139-.443-.377-.443-.590v-.700c0-.213.154-.451.443-.590A4.500 4.500 0 0 0 12.500 3V2h1a.5.5 0 0 0 0-1h-11a.5.5 0 0 0 0 1h1v1a4.500 4.500 0 0 0 2.557 4.060c.290.139.443.377.443.590v.700c0 .213-.154.451-.443.590A4.500 4.500 0 0 0 3.500 13v1h-1a.5.5 0 0 0-.5.5zm2.500-.5v-1a3.500 3.500 0 0 1 1.989-3.158c.533-.256 1.011-.790 1.011-1.491v-.702s.180.101.500.101.500-.100.500-.100v.700c0 .701.478 1.236 1.011 1.492A3.500 3.500 0 0 1 11.500 13v1h-7z"/></svg></td></tr><tr class="skipped"><td><a style="letter-spacing:0.25px">Colin adds skipped items to the cart</a></td><td>4</td><td>08:06:58</td><td>027ms</td><td><svg class="bi" width="32" height="32" viewBox="0 0 16 16" fill="#5585c7" style=""><path d="M15.500 3.500a.5.5 0 0 1 .5.5v8a.5.5 0 0 1-1 0V8.752l-6.267 3.636c-.520.302-1.233-.043-1.233-.696v-2.940l-6.267 3.636C.713 12.690 0 12.345 0 11.692V4.308c0-.653.713-.998 1.233-.696L7.500 7.248v-2.940c0-.653.713-.998 1.233-.696L15 7.248V4a.5.5 0 0 1 .5-.5zM1 4.633v6.734L6.804 8 1 4.633zm7.500 0v6.734L14.304 8 8.500 4.633z"/></svg></td></tr><tr class="success"><td><a style="letter-spacing:0.25px">Colin adds several items to the cart</a></td><td>4</td><td>08:06:58</td><td>371ms</td><td><svg class="bi" width="32" height="32" viewBox="0 0 16 16" fill="#a0c846" style=""><path d="M16 8A8 8 0 1 1 0 8a8 8 0 0 1 16 0zm-3.970-3.030a.75.75 0 0 0-1.080.022L7.477 9.417 5.384 7.323a.75.75 0 0 0-1.060 1.060L6.970 11.030a.75.75 0 0 0 1.079-.020l3.992-4.990a.75.75 0 0 0-.010-1.050z"/></svg></td></tr><tr class="success"><td><a style="letter-spacing:0.25px">Colin removes an item from the cart on the product catalog page 2</a></td><td>4</td><td>08:06:59</td><td>441ms</td><td><svg class="bi" width="32" height="32" viewBox="0 0 16 16" fill="#a0c846" style=""><path d="M16 8A8 8 0 1 1 0 8a8 8 0 0 1 16 0zm-3.970-3.030a.75.75 0 0 0-1.080.022L7.477 9.417 5.384 7.323a.75.75 0 0 0-1.060 1.060L6.970 11.030a.75.75 0 0 0 1.079-.020l3.992-4.990a.75.75 0 0 0-.010-1.050z"/></svg></td></tr></tbody></table><div class="abs" style="left:79px;top:2531.5px;font:28px 'DejaVu Sans',Verdana,sans-serif;letter-spacing:0.27px">Showing 1 to 10 of 13 entries</div><div class="pager"><span style="width:176.5px;letter-spacing:-0.3px">Previous</span><span class="on" style="width:72px">1</span><span style="width:68.5px;padding-right:4px">2</span><span style="width:117.5px;padding-right:3px">Next</span></div></div></body></html>
